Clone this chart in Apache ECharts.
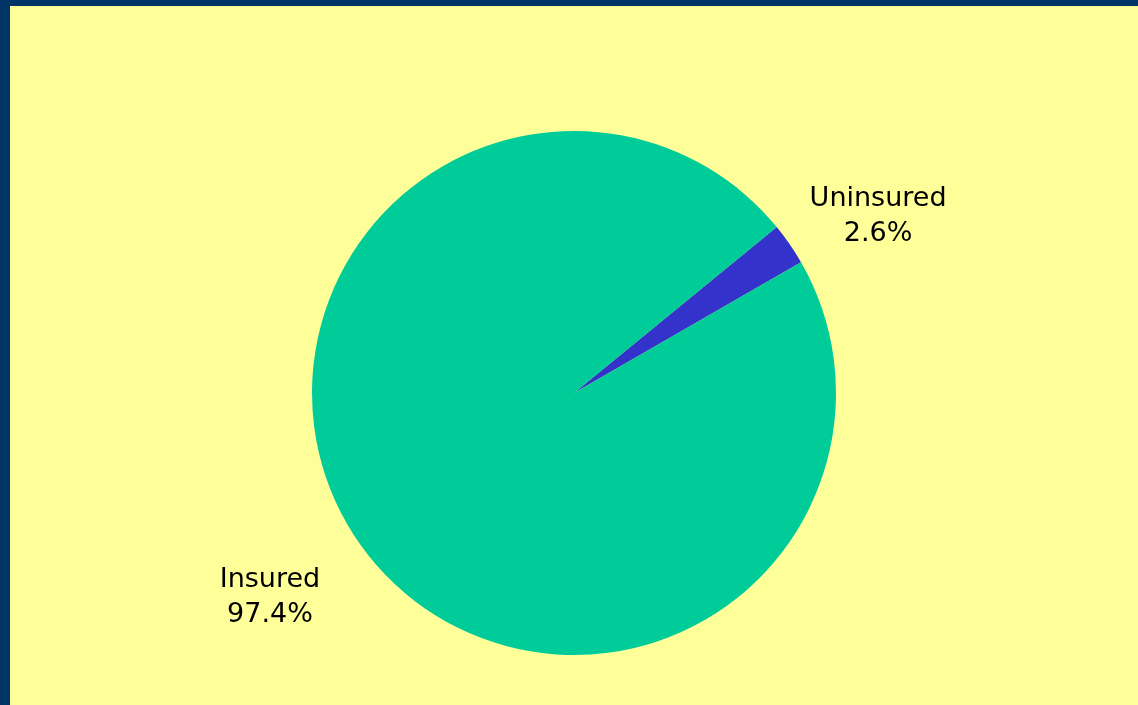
<!DOCTYPE html>
<html>
<head>
<meta charset="utf-8">
<script src="https://cdn.jsdelivr.net/npm/echarts@6/dist/echarts.min.js"></script>
<style>
  html, body { margin: 0; padding: 0; background: #003366; }
  #chart { position: absolute; left: 10px; top: 6px; width: 1128px; height: 699px; background: #ffff99; }
</style>
</head>
<body>
<div id="chart"></div>
<script>
const categories = ["Uninsured", "Insured"];
const shares = [2.6, 97.4];
const colors = ["#3333cc", "#00cc99"];

const pieData = categories.map((name, i) => ({
  name: name,
  value: shares[i],
  itemStyle: { color: colors[i] }
}));

// small nudges so the text sits where the original put it
const labelShift = [{ dx: 7, dy: 29 }, { dx: -7, dy: -1 }];

const chart = echarts.init(document.getElementById("chart"));
chart.setOption({
  backgroundColor: "#ffff99",
  animation: false,
  series: [
    {
      type: "pie",
      center: [564, 387],
      radius: [0, 262],
      startAngle: 39.3,
      clockwise: true,
      silent: true,
      label: { show: false },
      labelLine: { show: false },
      data: pieData
    },
    {
      // invisible ring only used to place the labels
      type: "pie",
      center: [564, 387],
      radius: [0, 716],
      startAngle: 39.3,
      clockwise: true,
      silent: true,
      itemStyle: { color: "rgba(0,0,0,0)" },
      label: {
        show: true,
        position: "inside",
        formatter: p => p.name + "\n" + p.value + "%",
        fontFamily: "DejaVu Sans",
        fontSize: 27,
        lineHeight: 35,
        color: "#000"
      },
      labelLine: { show: false },
      labelLayout: p => labelShift[p.dataIndex],
      data: categories.map((name, i) => ({ name: name, value: shares[i] }))
    }
  ]
});
</script>
</body>
</html>
